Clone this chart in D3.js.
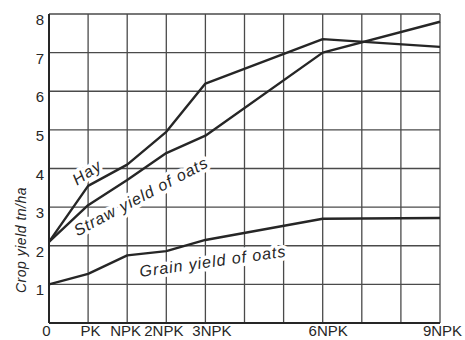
<!DOCTYPE html>
<html><head><meta charset="utf-8">
<script src="https://cdn.jsdelivr.net/npm/d3@7"></script>
<style>
html,body{margin:0;padding:0;background:#fff;}
svg{display:block;}
</style></head>
<body>
<svg id="chart" width="465" height="340"></svg>
<script>
// Data
const categories = ["0","PK","NPK","2NPK","3NPK","6NPK","9NPK"];
const xPositions = [0,1,2,3,4,7,10];
const hay   = [2.1, 3.55, 4.1, 4.95, 6.2, 7.35, 7.15];
const straw = [2.1, 3.05, 3.7, 4.4, 4.85, 7.0, 7.8];
const grain = [1.0, 1.27, 1.75, 1.86, 2.15, 2.7, 2.72];
const yTicks = [0,1,2,3,4,5,6,7,8];
const yTickLabels = ["0","1","2","3","4","5","6","7","8"];
const seriesLabels = [
  {text:"Hay", x:0.97, y:3.9, angle:-34},
  {text:"Straw yield of oats", x:2.35, y:3.28, angle:-28},
  {text:"Grain yield of oats", x:4.19, y:1.6, angle:-8}
];

const svg = d3.select("#chart");
const x = d3.scaleLinear().domain([0,10]).range([49,440]);
const y = d3.scaleLinear().domain([0,8]).range([323,14]);
const ink = "#262626";
const gridInk = "#4a4a4a";

// grid
const g = svg.append("g");
g.selectAll("line.v").data(d3.range(0,11)).join("line")
  .attr("x1",d=>x(d)).attr("x2",d=>x(d)).attr("y1",y(0)).attr("y2",y(8))
  .attr("stroke",gridInk).attr("stroke-width",1.3);
g.selectAll("line.h").data(d3.range(0,9)).join("line")
  .attr("x1",x(0)).attr("x2",x(10)).attr("y1",d=>y(d)).attr("y2",d=>y(d))
  .attr("stroke",gridInk).attr("stroke-width",1.3);
// frame
svg.append("line").attr("x1",x(0)).attr("x2",x(0)).attr("y1",y(0)).attr("y2",y(8)).attr("stroke",ink).attr("stroke-width",2);
svg.append("line").attr("x1",x(0)).attr("x2",x(10)).attr("y1",y(0)).attr("y2",y(0)).attr("stroke",ink).attr("stroke-width",2);

// label halos
const labG = svg.append("g");
function drawLabels(halo){
  labG.selectAll(null).data(seriesLabels).join("text")
    .attr("transform",d=>`translate(${x(d.x)},${y(d.y)}) rotate(${d.angle})`)
    .attr("text-anchor","middle").attr("dy","0.35em")
    .attr("font-family","'Liberation Sans', Arial, sans-serif")
    .attr("font-style","italic").attr("font-size",16)
    .attr("letter-spacing",1)
    .attr("fill", halo ? "#fff" : ink)
    .attr("stroke", halo ? "#fff" : "none")
    .attr("stroke-width", halo ? 7 : 0)
    .attr("stroke-linejoin","round")
    .text(d=>d.text);
}
drawLabels(true);

// lines
const line = d3.line().x((d,i)=>x(xPositions[i])).y(d=>y(d));
[hay,straw,grain].forEach(s=>{
  svg.append("path").datum(s).attr("d",line)
    .attr("fill","none").attr("stroke",ink).attr("stroke-width",2.4)
    .attr("stroke-linejoin","round");
});
drawLabels(false);

// x axis labels
const xAxis = d3.axisBottom(x).tickValues(xPositions)
  .tickFormat((d,i)=>categories[i]).tickSize(0).tickPadding(2);
const xa = svg.append("g").attr("transform",`translate(0,${y(0)})`).call(xAxis);
xa.select(".domain").remove();
xa.selectAll("text").attr("font-family","'Liberation Sans', Arial, sans-serif")
  .attr("font-size",15).attr("fill",ink).attr("dy","0.71em")
  .attr("dx",(d,i)=>[-3,2,-2,-3,6,5,2][i]);

// y axis labels
const yAxis = d3.axisLeft(y).tickValues(yTicks.slice(1))
  .tickFormat(d=>yTickLabels[d]).tickSize(0).tickPadding(5);
const ya = svg.append("g").attr("transform",`translate(${x(0)},0)`).call(yAxis);
ya.select(".domain").remove();
ya.selectAll("text").attr("font-family","'Liberation Sans', Arial, sans-serif")
  .attr("font-size",15).attr("fill",ink).attr("dy","0.7em");

// y title
svg.append("text").attr("transform",`translate(26,${y(2.15)}) rotate(-90)`)
  .attr("text-anchor","middle")
  .attr("font-family","'Liberation Sans', Arial, sans-serif")
  .attr("font-style","italic").attr("font-size",14).attr("letter-spacing",0.5)
  .attr("fill",ink).text("Crop yield tn/ha");
</script>
</body></html>
